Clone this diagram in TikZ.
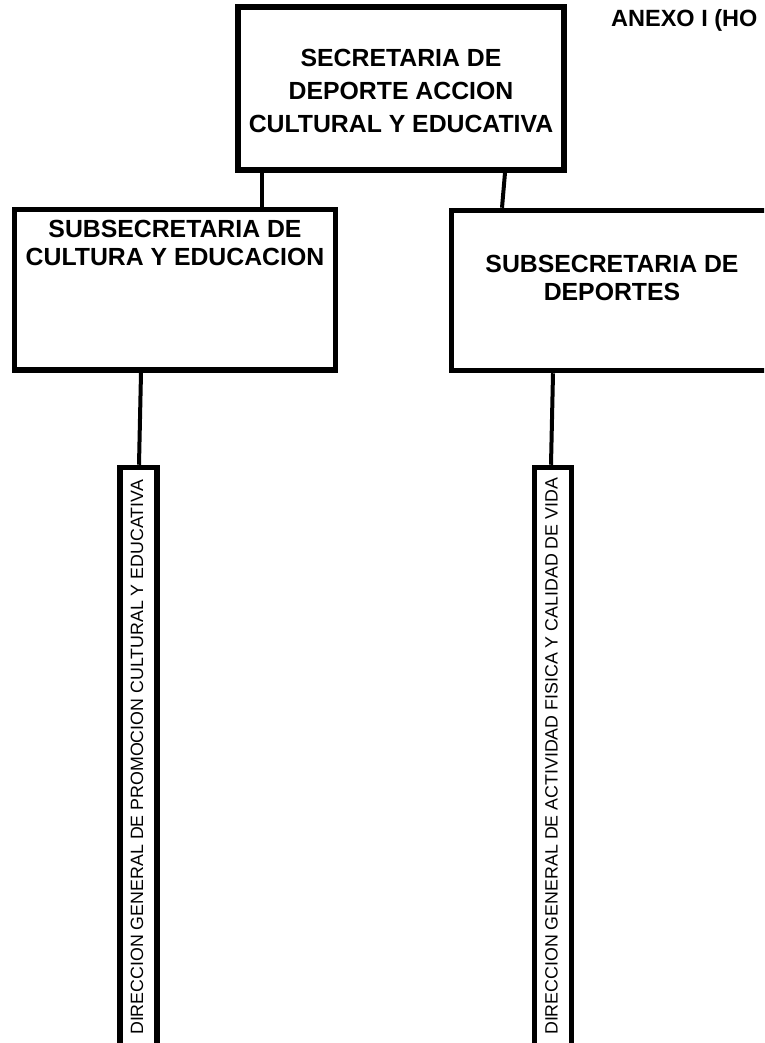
\documentclass[tikz,border=0pt]{standalone}
\usepackage{fontspec}
\setmainfont{Liberation Sans}
\begin{document}
\begin{tikzpicture}[x=1pt,y=-1pt,
  box/.style={draw, line width=5.5pt, inner sep=0pt, fill=white},
  conn/.style={line width=4pt},
  bigtxt/.style={font=\fontsize{24.8}{28}\selectfont\bfseries, inner sep=0pt, anchor=base},
  anexotxt/.style={font=\fontsize{23.5}{26}\selectfont\bfseries, inner sep=0pt, anchor=base west},
  vtxt/.style={font=\fontsize{17.8}{20}\selectfont, inner sep=0pt, anchor=base west, rotate=90}]
\useasboundingbox (0,0) rectangle (764,1043);
\clip (0,0) rectangle (764,1043);
\fill[white] (0,0) rectangle (764,1043);

% boxes
\node[box, minimum width=326pt, minimum height=163pt] (top) at (401,88.5) {};
\node[box, minimum width=321pt, minimum height=160.5pt] (subL) at (175,289.75) {};
\node[box, minimum width=317.5pt, minimum height=160pt] (subR) at (610.25,290.5) {};
\node[box, minimum width=37pt, minimum height=632.5pt] (vL) at (138.5,783.75) {};
\node[box, minimum width=37pt, minimum height=632.5pt] (vR) at (553,783.75) {};

% connectors
\coordinate (c1) at (262,0);
\draw[conn] (top.south -| c1) -- (subL.north -| c1);
\draw[conn] ([xshift=104pt]top.south) -- ([xshift=-108.25pt]subR.north);
\draw[conn] ([xshift=-34pt]subL.south) -- ([xshift=0.5pt]vL.north);
\draw[conn] ([xshift=-57.25pt]subR.south) -- ([xshift=-2pt]vR.north);

% texts
\node[anexotxt] (anexo) at (611,27) {ANEXO I (HO};
\node[bigtxt] (t1) at (401,67) {SECRETARIA DE};
\node[bigtxt] (t2) at (401,100) {DEPORTE ACCION};
\node[bigtxt] (t3) at (401,133) {CULTURAL Y EDUCATIVA};
\node[bigtxt] (l1) at (175,237) {SUBSECRETARIA DE};
\node[bigtxt] (l2) at (175,265) {CULTURA Y EDUCACION};
\node[bigtxt] (r1) at (612,272) {SUBSECRETARIA DE};
\node[bigtxt] (r2) at (612,300) {DEPORTES};
\node[vtxt] (vl) at (143,1035) {DIRECCION GENERAL DE PROMOCION CULTURAL Y EDUCATIVA};
\node[vtxt] (vr) at (557.5,1035) {DIRECCION GENERAL DE ACTIVIDAD FISICA Y CALIDAD DE VIDA};
\end{tikzpicture}
\end{document}
